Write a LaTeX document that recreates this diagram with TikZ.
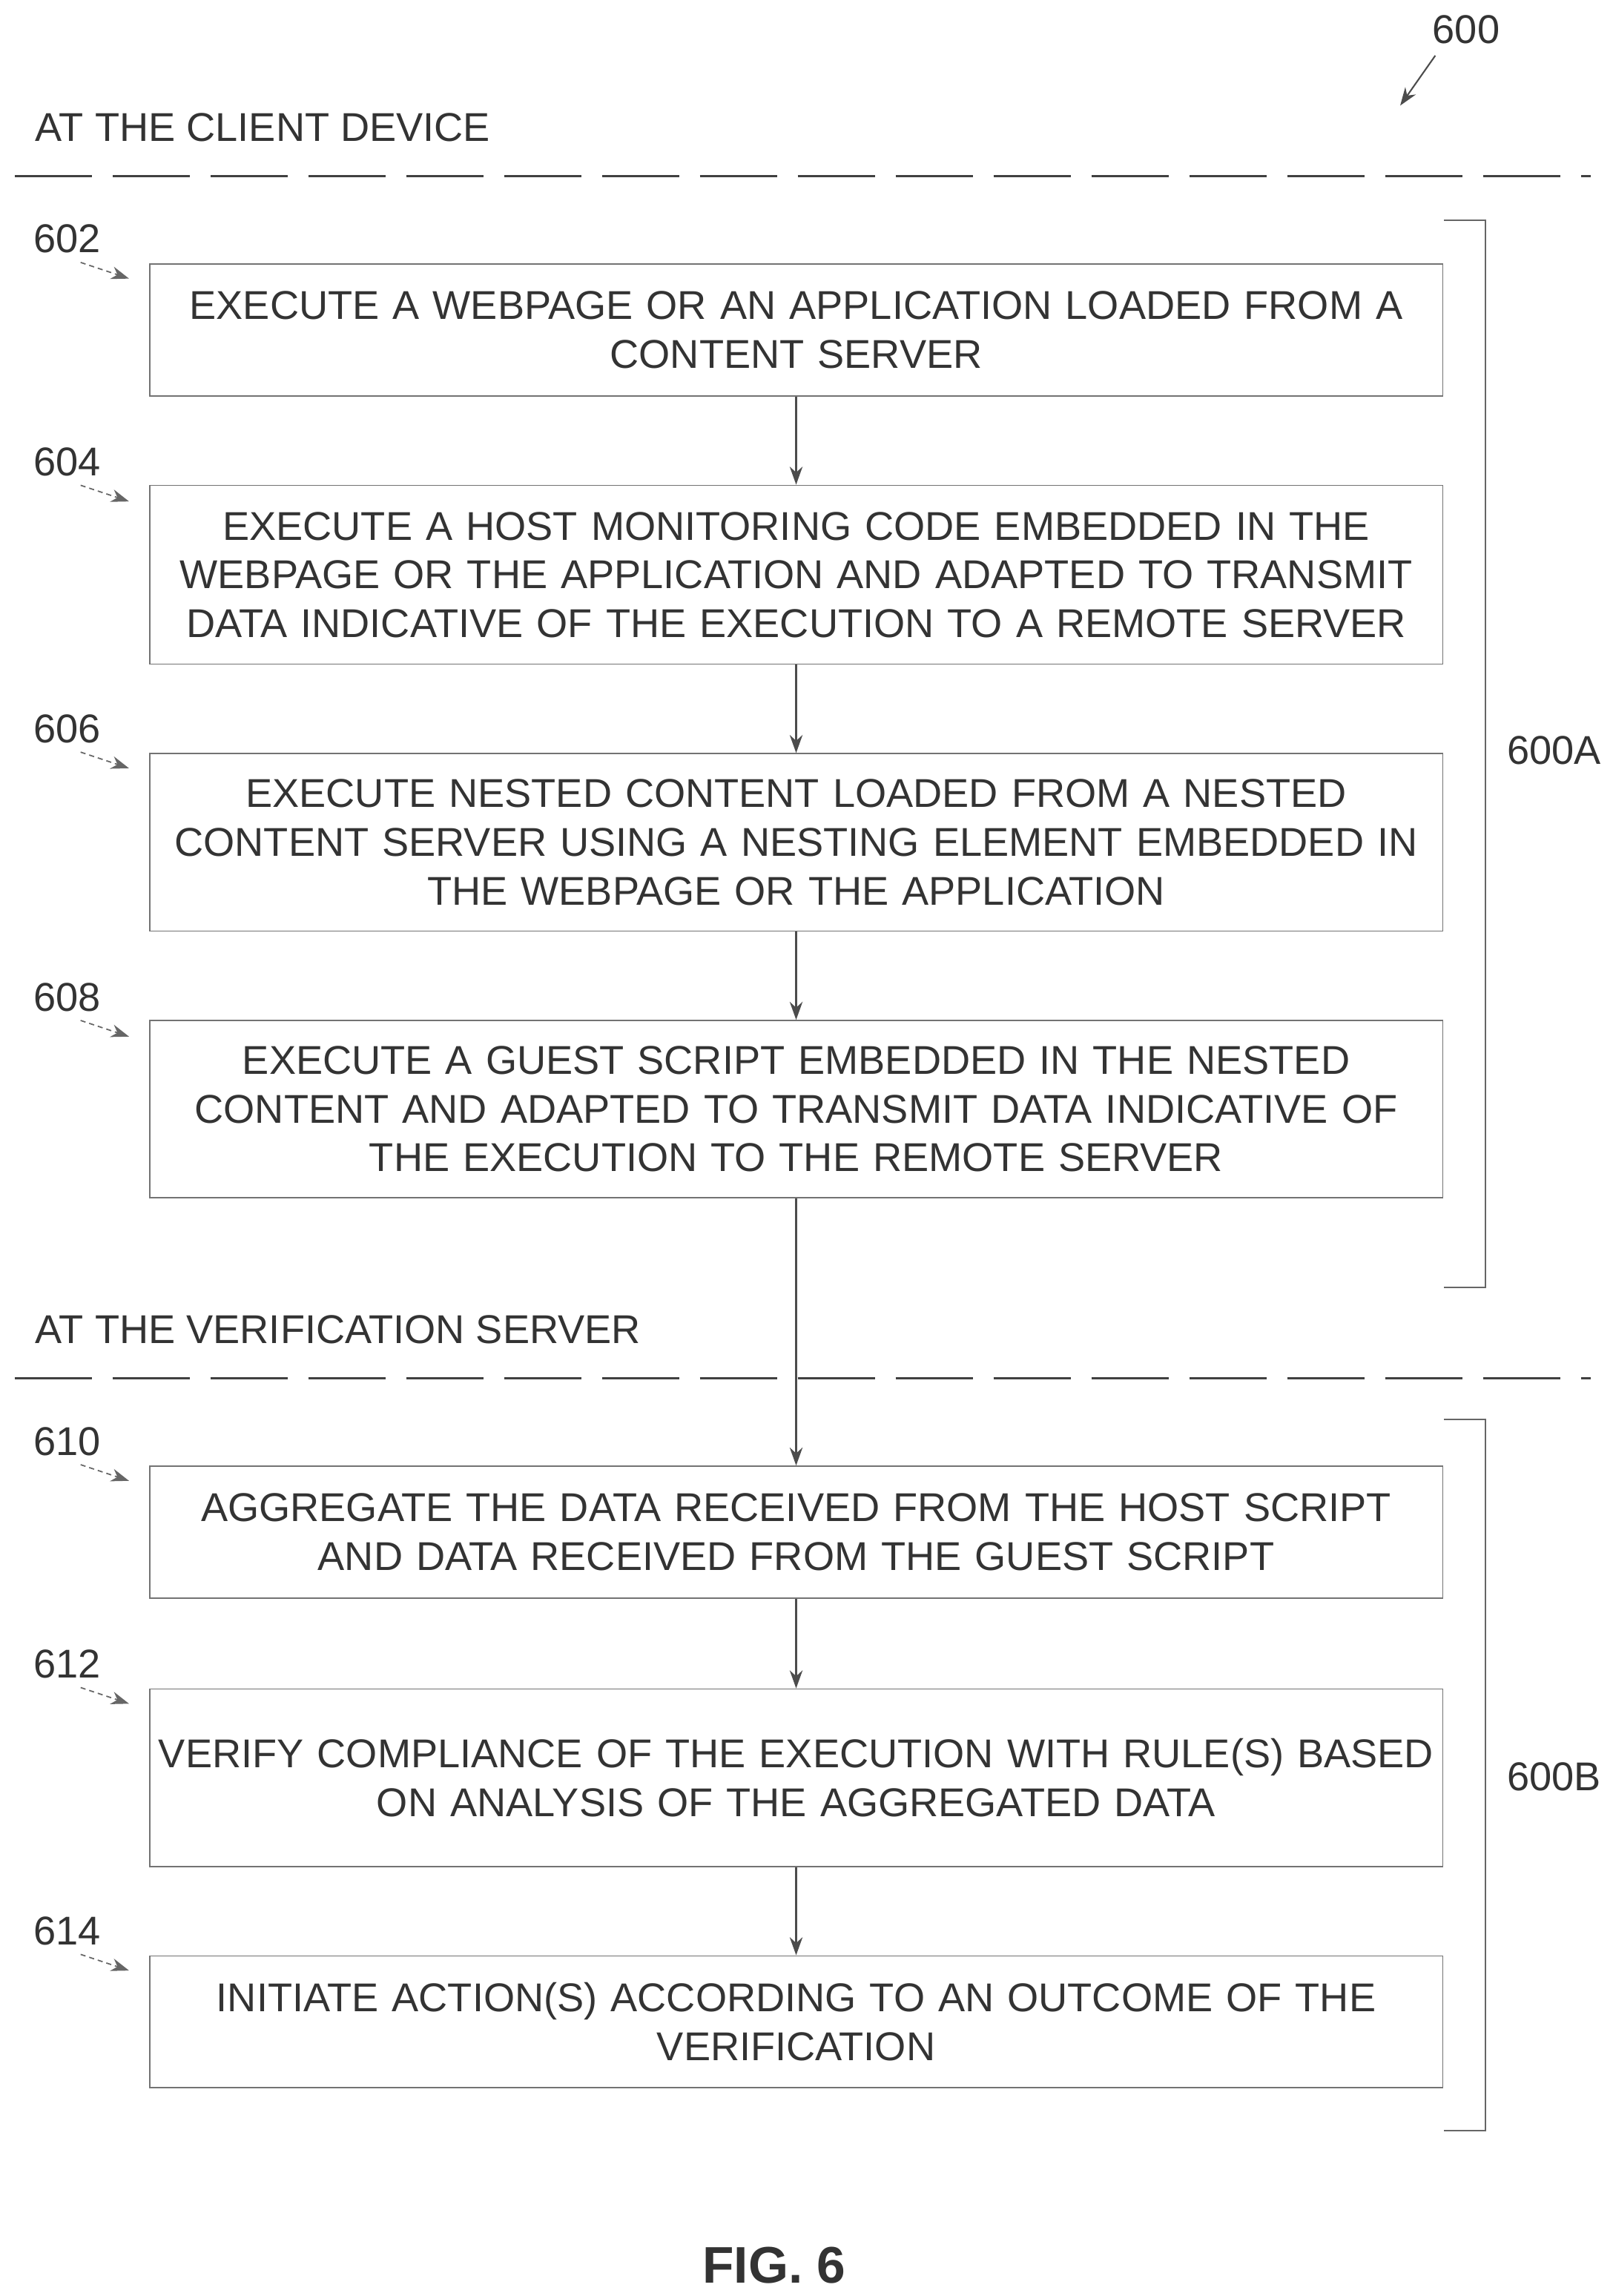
\documentclass[tikz,border=0pt]{standalone}
\usepackage{fontspec}
\setmainfont{Liberation Sans}
\usetikzlibrary{arrows.meta}
\begin{document}
\begin{tikzpicture}[x=0.02cm,y=-0.02cm,
  box/.style={draw=black!55,line width=0.5pt,text width=870*0.02cm,inner xsep=6*0.02cm,inner ysep=0pt,align=center,font=\fontsize{15.6}{18.9}\selectfont,text=black!80},
  lbl/.style={font=\fontsize{15.6}{18}\selectfont,text=black!80},
  arr/.style={-{Stealth[length=7pt,width=5pt]},black!70,line width=0.6pt},
  refarr/.style={-{Stealth[length=7pt,width=5pt]},black!60,dashed,dash pattern=on 2pt off 1.5pt,line width=0.5pt},
  sep/.style={black!75,line width=1pt,dash pattern=on 30pt off 8pt}]
\useasboundingbox (0,0) rectangle (1100,1566);
\node[lbl,anchor=west] (h1) at (18,87) {AT THE CLIENT DEVICE};
\node[lbl,anchor=west] (h2) at (18,907) {AT THE VERIFICATION SERVER};
\draw[sep] (10,120) -- (1085,120);
\draw[sep] (10,940) -- (1085,940);
\node[lbl] (n600) at (1000,20) {600};
\coordinate (t600) at (955,72);
\draw[arr] (n600.south west) ++(8,2) -- (t600);

\node[box,minimum height=90*0.02cm] (b602) at (543,225) {EXECUTE A WEBPAGE OR AN APPLICATION LOADED FROM A\\CONTENT SERVER};
\node[box,minimum height=122*0.02cm] (b604) at (543,392) {EXECUTE A HOST MONITORING CODE EMBEDDED IN THE\\WEBPAGE OR THE APPLICATION AND ADAPTED TO TRANSMIT\\DATA INDICATIVE OF THE EXECUTION TO A REMOTE SERVER};
\node[box,minimum height=121*0.02cm] (b606) at (543,574.5) {EXECUTE NESTED CONTENT LOADED FROM A NESTED\\CONTENT SERVER USING A NESTING ELEMENT EMBEDDED IN\\THE WEBPAGE OR THE APPLICATION};
\node[box,minimum height=121*0.02cm] (b608) at (543,756.5) {EXECUTE A GUEST SCRIPT EMBEDDED IN THE NESTED\\CONTENT AND ADAPTED TO TRANSMIT DATA INDICATIVE OF\\THE EXECUTION TO THE REMOTE SERVER};
\node[box,minimum height=90*0.02cm] (b610) at (543,1045) {AGGREGATE THE DATA RECEIVED FROM THE HOST SCRIPT\\AND DATA RECEIVED FROM THE GUEST SCRIPT};
\node[box,minimum height=121*0.02cm] (b612) at (543,1212.5) {VERIFY COMPLIANCE OF THE EXECUTION WITH RULE(S) BASED\\ON ANALYSIS OF THE AGGREGATED DATA\\[10pt]};
\node[box,minimum height=90*0.02cm] (b614) at (543,1379) {INITIATE ACTION(S) ACCORDING TO AN OUTCOME OF THE\\VERIFICATION};

\foreach \a/\b in {b602/b604,b604/b606,b606/b608,b608/b610,b610/b612,b612/b614}
  \draw[arr] (\a.south) -- (\b.north);

\foreach \n/\y in {602/163,604/315,606/497,608/680,610/983,612/1135,614/1317}{
  \node[lbl] (r\n) at (46,\y) {\n};
  \coordinate (c\n) at (88,\y+27);
  \draw[refarr] (55,\y+16) -- (c\n);
}

\coordinate (a1) at (985,150); \coordinate (a2) at (985,878);
\draw[black!60,line width=0.6pt] (a1) -- (1013,150) -- (1013,878) -- (a2);
\node[lbl] (l600a) at (1060,512) {600A};
\coordinate (bb1) at (985,968); \coordinate (bb2) at (985,1453);
\draw[black!60,line width=0.6pt] (bb1) -- (1013,968) -- (1013,1453) -- (bb2);
\node[lbl] (l600b) at (1060,1212) {600B};

\node[font=\bfseries\fontsize{20}{24}\selectfont,text=black!80] (fig) at (528,1545) {FIG. 6};
\end{tikzpicture}
\end{document}
